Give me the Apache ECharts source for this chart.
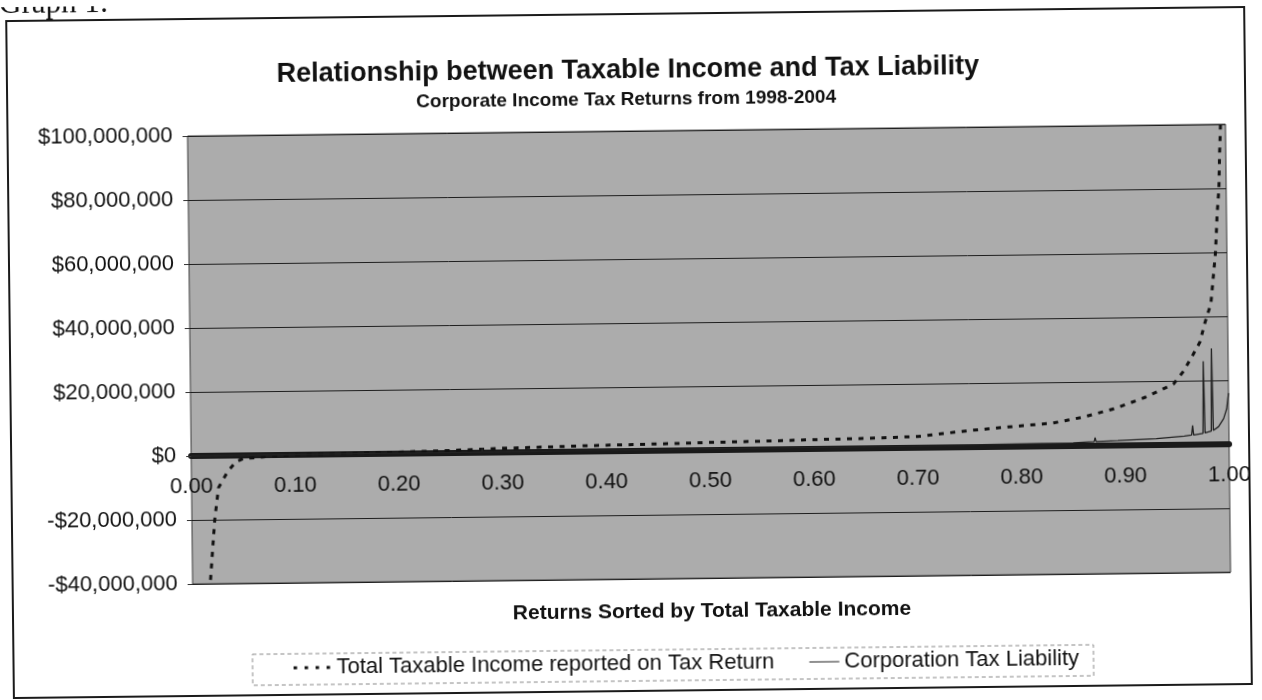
<!DOCTYPE html>
<html><head><meta charset="utf-8">
<script src="https://cdn.jsdelivr.net/npm/echarts@6/dist/echarts.min.js"></script>
<style>
html,body{margin:0;padding:0;background:#fff;overflow:hidden}
#chart{width:1262px;height:700px;transform:rotate(-0.65deg);transform-origin:631px 350px}
</style>
</head><body><div id="chart"></div>
<script>
const pageLabel = 'Graph 1:';
const chartTitle = 'Relationship between Taxable Income and Tax Liability';
const chartSubtitle = 'Corporate Income Tax Returns from 1998-2004';
const xAxisTitle = 'Returns Sorted by Total Taxable Income';
const seriesNames = ['Total Taxable Income reported on Tax Return', 'Corporation Tax Liability'];

const yMin = -40000000, yMax = 100000000, yStep = 20000000;
const xMin = 0, xMax = 1, xStep = 0.1;

// Total taxable income (share of returns, dollars)
const incomeShare = [0.000, 0.010, 0.017, 0.022, 0.026, 0.035, 0.043, 0.050, 0.080, 0.100, 0.150, 0.200, 0.250, 0.300, 0.350, 0.400, 0.450, 0.500, 0.550, 0.600, 0.650, 0.700, 0.750, 0.800, 0.830, 0.860, 0.890, 0.920, 0.947, 0.957, 0.966, 0.973, 0.978, 0.984, 0.989, 0.991, 0.993, 0.994, 0.995, 0.997, 1.000];
const incomeValue = [-150000000, -60000000, -40000000, -20000000, -10000000, -5000000, -2000000, -1000000, -300000, 0, 200000, 500000, 800000, 1300000, 1600000, 1900000, 2100000, 2400000, 2600000, 2900000, 3100000, 3500000, 5200000, 6500000, 7200000, 9000000, 11500000, 15000000, 19000000, 23000000, 28000000, 32000000, 38000000, 44000000, 60000000, 72000000, 80000000, 91000000, 98000000, 120000000, 250000000];

// Corporation tax liability (share of returns, dollars)
const liabilityShare = [0.000, 0.280, 0.2805, 0.281, 0.500, 0.700, 0.850, 0.870, 0.871, 0.872, 0.893, 0.930, 0.957, 0.964, 0.965, 0.966, 0.975, 0.976, 0.977, 0.983, 0.984, 0.985, 0.990, 0.995, 0.998, 1.000];
const liabilityValue = [0, 200000, 1500000, 200000, 400000, 600000, 1000000, 1300000, 2500000, 1300000, 1500000, 2000000, 2700000, 3000000, 6000000, 3000000, 3500000, 26000000, 3600000, 4200000, 30000000, 4400000, 5500000, 8000000, 11000000, 16000000];

const incomeData = incomeShare.map((x, i) => [x, incomeValue[i]]);
const liabilityData = liabilityShare.map((x, i) => [x, liabilityValue[i]]);

function money(v) {
  const s = Math.abs(v).toLocaleString('en-US');
  return (v < 0 ? '-$' : '$') + s;
}

const FONT = '"Liberation Sans", Arial, sans-serif';
const GRID = {left: 190, right: 34, top: 131, bottom: 121};
const gridHeight = 700 - GRID.top - GRID.bottom;
// category axis crosses the value axis at $0 (labels sit next to that line)
const xAxisOffset = -gridHeight * (0 - yMin) / (yMax - yMin);

const dottedIcon = 'path://M2,0.5h3.5v3h-3.5zM13,0.5h3.5v3h-3.5zM24,0.5h3.5v3h-3.5zM35,0.5h3.5v3h-3.5zM0,0h0.01v0.01h-0.01zM39.99,3.99h0.01v0.01h-0.01z';
const solidIcon = 'path://M10,1.4h30v1.2h-30zM0,0h0.01v0.01h-0.01zM0,3.99h0.01v0.01h-0.01z';

const chart = echarts.init(document.getElementById('chart'), null, {renderer: 'canvas'});

chart.setOption({
  animation: false,
  backgroundColor: '#ffffff',
  grid: Object.assign({
    show: true, backgroundColor: '#acacac', borderColor: '#3a3a3a', borderWidth: 1
  }, GRID),
  xAxis: {
    type: 'value', min: xMin, max: xMax, interval: xStep, position: 'bottom', offset: xAxisOffset,
    axisLine: {show: true, onZero: false, lineStyle: {color: '#1a1a1a', width: 6}},
    axisTick: {show: false},
    splitLine: {show: false},
    axisLabel: {
      margin: 20, color: '#111', fontSize: 22, fontFamily: FONT,
      formatter: v => v.toFixed(2), showMinLabel: true, showMaxLabel: true
    }
  },
  yAxis: {
    type: 'value', min: yMin, max: yMax, interval: yStep,
    axisLine: {show: false},
    axisTick: {show: true, length: 5, lineStyle: {color: '#333'}},
    splitLine: {show: true, lineStyle: {color: '#1e1e1e', width: 1}},
    axisLabel: {margin: 15, color: '#111', fontSize: 22, fontFamily: FONT, formatter: money}
  },
  legend: {
    left: 288, top: 653, padding: 0, itemGap: 25, itemWidth: 40, itemHeight: 4,
    textStyle: {color: '#111', fontSize: 22, fontFamily: FONT},
    data: [
      {name: seriesNames[0], icon: dottedIcon, itemStyle: {color: '#111'}},
      {name: seriesNames[1], icon: solidIcon, itemStyle: {color: '#222'}}
    ]
  },
  series: [
    {
      name: seriesNames[0], type: 'line', data: incomeData, symbol: 'none', clip: true,
      lineStyle: {color: '#111', width: 3, type: [5, 6.5], cap: 'butt'},
      itemStyle: {color: '#111'}, z: 3
    },
    {
      name: seriesNames[1], type: 'line', data: liabilityData, symbol: 'none', clip: true,
      lineStyle: {color: '#222', width: 1.3},
      itemStyle: {color: '#222'}, z: 4
    }
  ],
  graphic: [
    {type: 'rect', z: -10, shape: {x: 10, y: 14, width: 1238, height: 677},
     style: {fill: 'none', stroke: '#1a1a1a', lineWidth: 2}},
    {type: 'rect', z: -5, shape: {x: 249, y: 650, width: 841, height: 31},
     style: {fill: 'none', stroke: '#8a8a8a', lineWidth: 1, lineDash: [4, 3]}},
    {type: 'text', style: {text: pageLabel, x: 3, y: 13, align: 'left', verticalAlign: 'bottom',
      fontSize: 31, fontFamily: '"Liberation Serif", "Times New Roman", serif', fill: '#111'}},
    {type: 'text', style: {text: chartTitle, x: 631, y: 71, align: 'center', verticalAlign: 'middle',
      fontSize: 27, fontWeight: 'bold', fontFamily: FONT, fill: '#111'}},
    {type: 'text', style: {text: chartSubtitle, x: 629, y: 100, align: 'center', verticalAlign: 'middle',
      fontSize: 19, fontWeight: 'bold', fontFamily: FONT, fill: '#111'}},
    {type: 'text', style: {text: xAxisTitle, x: 709, y: 612, align: 'center', verticalAlign: 'middle',
      fontSize: 21, fontWeight: 'bold', fontFamily: FONT, fill: '#111'}}
  ]
});
</script>
</body></html>
